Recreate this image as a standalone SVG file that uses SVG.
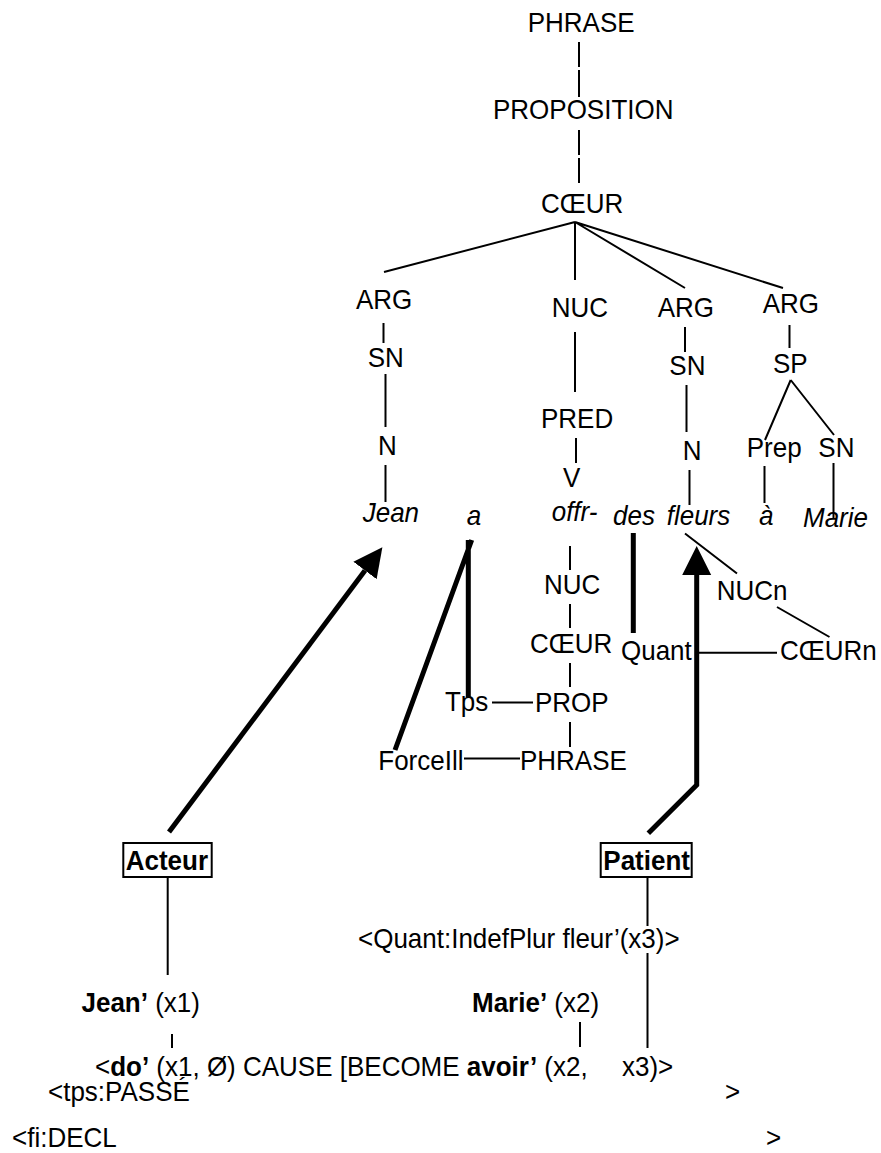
<svg xmlns="http://www.w3.org/2000/svg" width="881" height="1153" viewBox="0 0 881 1153">
<style>
text{font-family:"Liberation Sans",Arial,sans-serif;font-size:26px;fill:#000;transform-box:fill-box;transform-origin:0 81%;transform:scaleY(1.08)}
.i{font-style:italic}
.b{font-weight:bold}
.t{stroke:#000;stroke-width:2;fill:none}
.k{stroke:#000;stroke-width:5;fill:none;stroke-linejoin:miter}
.box{fill:#fff;stroke:#000;stroke-width:2}
</style>
<defs>
<marker id="ah" markerUnits="userSpaceOnUse" markerWidth="30" markerHeight="30" refX="0" refY="14.5" orient="auto" viewBox="0 0 30 29">
<path d="M0,0 L29,14.5 L0,29 Z" fill="#000"/>
</marker>
</defs>
<rect width="881" height="1153" fill="#fff"/>
<g id="connectors">
<path class="t" d="M579,42V67M579,70V97M579,130V155M579,158V183"/>
<path class="t" d="M575,222L384,272M575,222V280M575,222L685,288M575,222L783,288"/>
<path class="t" d="M383.5,323V343M385.5,374V427M385.5,465V502"/>
<path class="t" d="M575,332V392M576,438V463"/>
<path class="t" d="M685,327V352M686.5,385V432M689.5,470V505"/>
<path class="t" d="M789.5,325V348M790.7,380L765,440M790.7,380L834,435M764.5,466V503M833.5,463V518"/>
<path class="t" d="M570,546V570M570,604V628M570,663V687M570,722V747"/>
<path class="t" d="M492,702.5H533M464,758.5H520"/>
<path class="t" d="M685,533.5L737,573.5M777,607L829.5,637M698.5,652.7H777"/>
<path class="k" d="M468.3,540V697M471.7,540L395,750M633.3,533V633"/>
<path class="k" d="M169,832L365,570.5" marker-end="url(#ah)"/>
<path class="k" d="M648.3,833.3L696.7,785V575" marker-end="url(#ah)"/>
<path class="t" d="M167.7,877V975M647.5,877V926M647.5,953V1048M172,1034V1048M580,1022V1047"/>
</g>
<g id="n-phrase"><text x="527.7" y="32">PHRASE</text></g>
<g id="n-proposition"><text x="493" y="119">PROPOSITION</text></g>
<g id="n-coeur"><text x="541" y="213">CŒUR</text></g>
<g id="n-arg1"><text x="356" y="309">ARG</text></g>
<g id="n-sn1"><text x="367.7" y="366.7">SN</text></g>
<g id="n-n1"><text x="378" y="455">N</text></g>
<g id="n-jean"><text class="i" x="362.7" y="522">Jean</text></g>
<g id="n-nuc"><text x="551.7" y="316.7">NUC</text></g>
<g id="n-pred"><text x="541" y="428.3">PRED</text></g>
<g id="n-v"><text x="563" y="486.7">V</text></g>
<g id="n-offr"><text class="i" x="551.7" y="521">offr-</text></g>
<g id="n-arg2"><text x="657.7" y="316.7">ARG</text></g>
<g id="n-sn2"><text x="669.3" y="375">SN</text></g>
<g id="n-n2"><text x="682.7" y="460">N</text></g>
<g id="n-arg3"><text x="762.7" y="313.3">ARG</text></g>
<g id="n-sp"><text x="773" y="372.7">SP</text></g>
<g id="n-prep"><text x="746.7" y="457">Prep</text></g>
<g id="n-sn3"><text x="818.3" y="457.3">SN</text></g>
<g id="n-a"><text class="i" x="466.7" y="525">a</text></g>
<g id="n-des"><text class="i" x="613" y="525">des</text></g>
<g id="n-fleurs"><text class="i" x="666.7" y="525">fleurs</text></g>
<g id="n-agrave"><text class="i" x="759" y="525">à</text></g>
<g id="n-marie"><text class="i" x="803" y="527">Marie</text></g>
<g id="n-nuc2"><text x="544" y="594">NUC</text></g>
<g id="n-coeur2"><text x="530" y="653.3">CŒUR</text></g>
<g id="n-tps"><text x="445" y="711">Tps</text></g>
<g id="n-prop"><text x="535" y="711.7">PROP</text></g>
<g id="n-forceill"><text x="378.3" y="770">ForceIll</text></g>
<g id="n-phrase2"><text x="520" y="770">PHRASE</text></g>
<g id="n-quant"><text x="621" y="660">Quant</text></g>
<g id="n-nucn"><text x="716.7" y="600">NUCn</text></g>
<g id="n-coeurn"><text x="780" y="660">CŒURn</text></g>
<g id="n-acteur"><rect class="box" x="123.3" y="843" width="88.4" height="34"/><text class="b" x="125.7" y="870">Acteur</text></g>
<g id="n-patient"><rect class="box" x="600.7" y="843" width="91" height="34"/><text class="b" x="603.3" y="870">Patient</text></g>
<g id="n-quantsem"><text x="358" y="948">&lt;Quant:IndefPlur fleur’(x3)&gt;</text></g>
<g id="n-jeansem"><text x="81.5" y="1012"><tspan class="b">Jean’</tspan> (x1)</text></g>
<g id="n-mariesem"><text x="472" y="1012"><tspan class="b">Marie’</tspan> (x2)</text></g>
<g id="n-ls"><text x="95" y="1076">&lt;<tspan class="b">do’</tspan> (x1, Ø) CAUSE [BECOME <tspan class="b">avoir’</tspan> (x2,</text><text x="622" y="1076">x3)&gt;</text></g>
<g id="n-tps-op"><text x="48" y="1101">&lt;tps:PASSÉ</text><text x="725" y="1101">&gt;</text></g>
<g id="n-fi-op"><text x="12" y="1147">&lt;fi:DECL</text><text x="766" y="1147">&gt;</text></g>
</svg>
